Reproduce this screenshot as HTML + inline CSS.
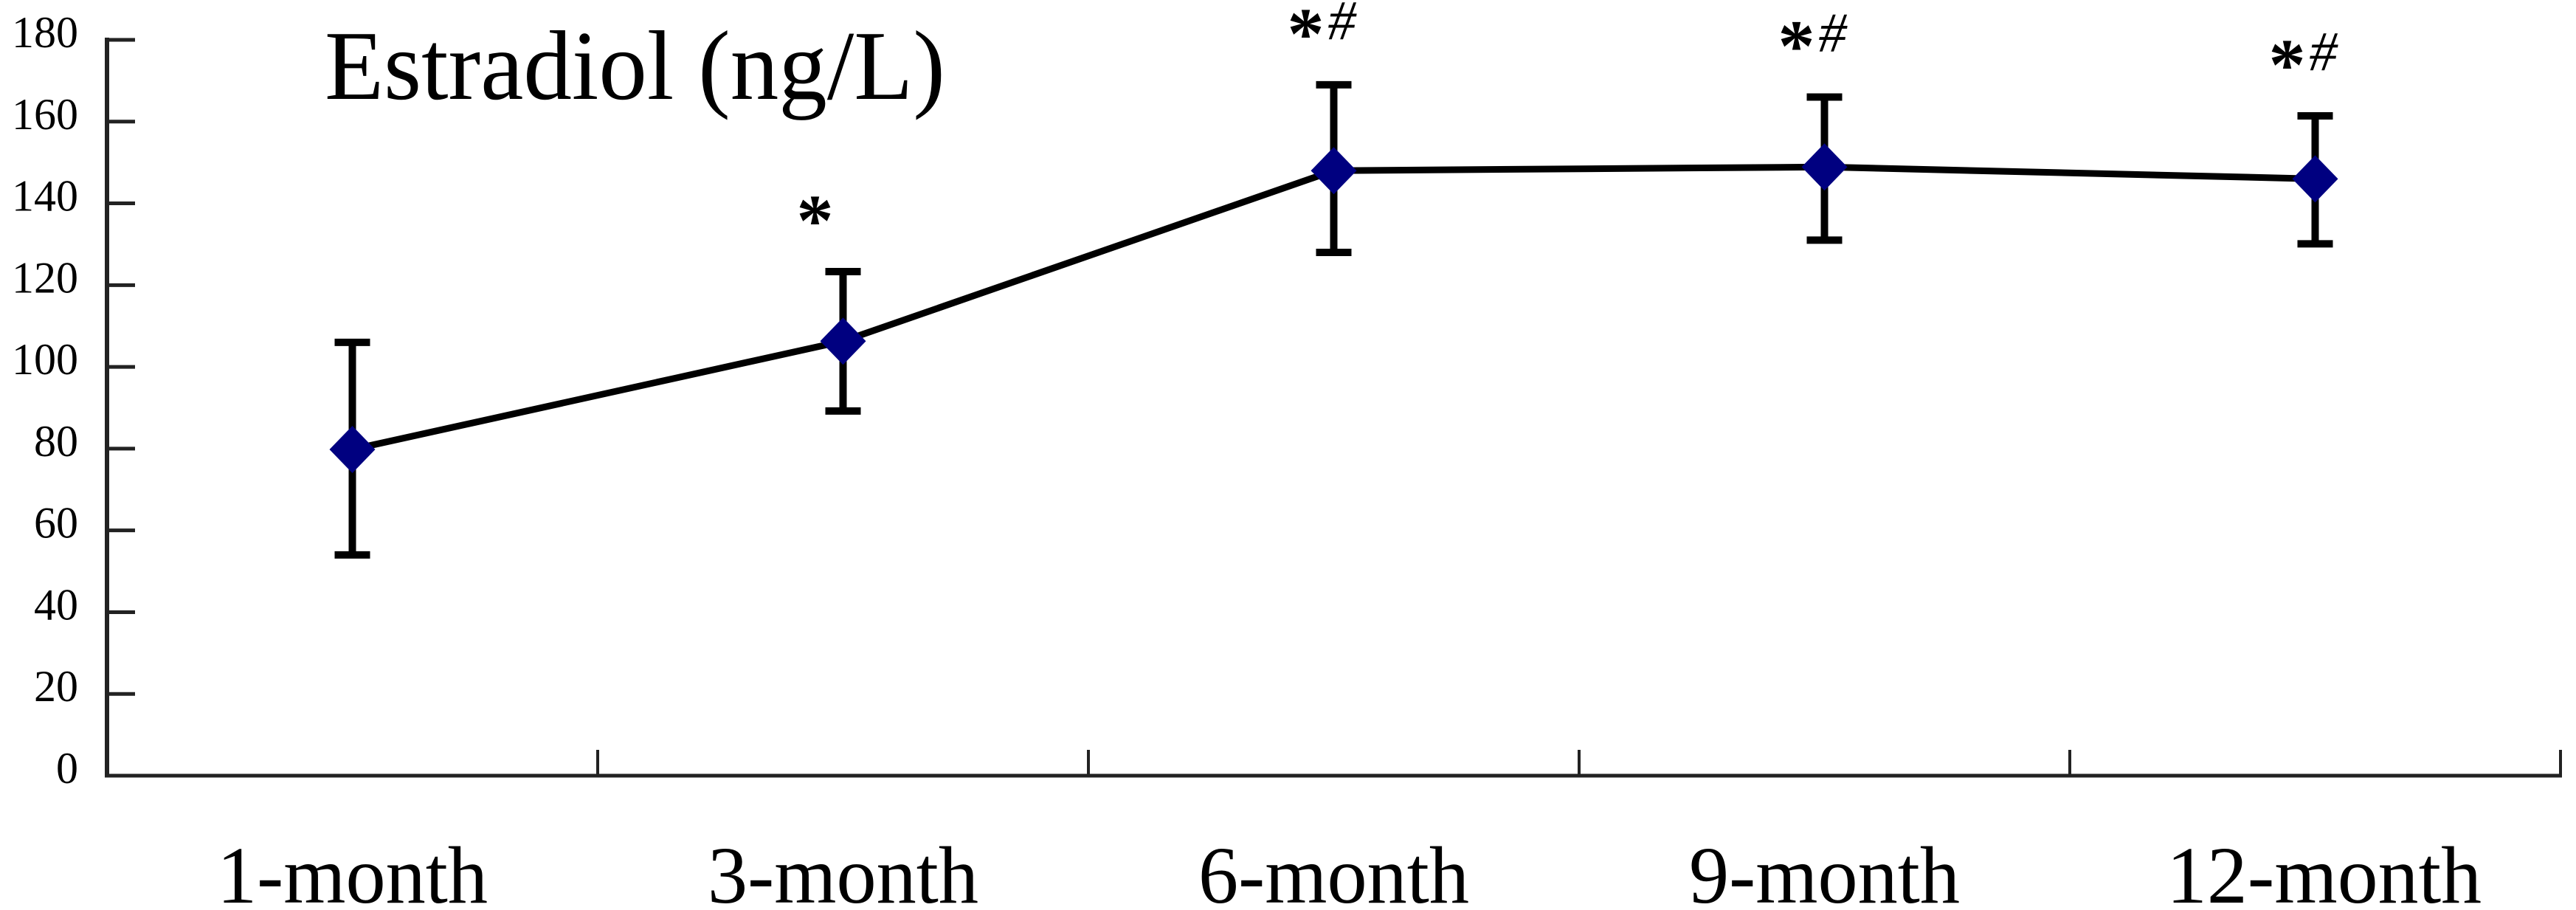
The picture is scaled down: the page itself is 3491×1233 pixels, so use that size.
<!DOCTYPE html>
<html><head><meta charset="utf-8"><style>
html,body{margin:0;padding:0;background:#fff;overflow:hidden;}
svg{display:block;}
text{font-family:"Liberation Serif","DejaVu Serif",serif;fill:#000;}
</style></head><body>
<svg id="chart" width="3491" height="1233" viewBox="0 0 3491 1233" xmlns="http://www.w3.org/2000/svg">
<text x="440" y="134" font-size="134" textLength="841" lengthAdjust="spacingAndGlyphs">Estradiol (ng/L)</text>
<g id="axes"></g>
<g id="marks"></g>
</svg>
<script>
const categories = ["1-month","3-month","6-month","9-month","12-month"];
const means = [79.8, 106.3, 148, 148.9, 146];
const upper = [106, 123.3, 169, 166, 161.4];
const lower = [54, 89.2, 128, 131, 130.1];
const marks = ["", "*", "*#", "*#", "*#"];
const yTicks = [0,20,40,60,80,100,120,140,160,180];

const NS = "http://www.w3.org/2000/svg";
const X0 = 145, CW = 665, Y0 = 1051, Y180 = 54;
function xs(i){ return X0 + CW*(i+0.5); }
function ys(v){ return Y0 - (v/180)*(Y0-Y180); }
function mk(tag, attrs, parent){ const e=document.createElementNS(NS,tag); for(const k in attrs) e.setAttribute(k,attrs[k]); parent.appendChild(e); return e; }
const axes = document.getElementById('axes');
const g = document.getElementById('marks');

let yl = mk('line',{x1:X0,y1:Y180-3,x2:X0,y2:Y0,stroke:'#222','stroke-width':6},axes);


let xl = mk('line',{x1:X0-3,y1:Y0,x2:X0+CW*categories.length+2,y2:Y0,stroke:'#222','stroke-width':5},axes);



yTicks.forEach(v=>{
  const t = mk('line',{x1:X0,y1:ys(v),x2:X0+38,y2:ys(v),stroke:'#222','stroke-width':5},axes);
  
  
  const l = mk('text',{x:106,y:ys(v)+10,'font-size':60,'text-anchor':'end'},axes);
  l.textContent = v;
  
  
});
for(let i=1;i<=categories.length;i++){
  const x = X0+CW*i;
  const t = mk('line',{x1:x,y1:Y0,x2:x,y2:Y0-35,stroke:'#222','stroke-width':4},axes);
  
  
}
categories.forEach((c,i)=>{
  const w = 367 + (c.length-7)*60;
  const l = mk('text',{x:xs(i)+(c.length-7)*12,y:1223,'font-size':110,'text-anchor':'middle',textLength:w,lengthAdjust:'spacingAndGlyphs'},axes);
  l.textContent = c;
  
  
});

const pts = means.map((m,i)=>xs(i)+','+ys(m)).join(' ');
const line = mk('polyline',{points:pts,fill:'none',stroke:'#000','stroke-width':9,'stroke-linejoin':'round'},g);



means.forEach((m,i)=>{
  const x = xs(i), yu = ys(upper[i]), yd = ys(lower[i]), y = ys(m);
  const eb = mk('path',{d:`M${x},${yu}V${yd}M${x-24},${yu}H${x+24}M${x-24},${yd}H${x+24}`,stroke:'#000','stroke-width':10,fill:'none'},g);
  
  
  const d = mk('polygon',{points:`${x},${y-32} ${x+31},${y} ${x},${y+32} ${x-31},${y}`,fill:'#000080'},g);
  
  
  if(marks[i]){
    const a = mk('text',{x:x-38,y:yu-36,'font-size':100,'text-anchor':'middle','font-weight':'bold'},g);
    a.textContent = '*';
    
    
    if(marks[i].includes('#')){
      const h = mk('text',{x:x-8,y:yu-62,'font-size':76,'font-style':'italic'},g);
      h.textContent = '#';
      
      
    }
  }
});
</script>
</body></html>
